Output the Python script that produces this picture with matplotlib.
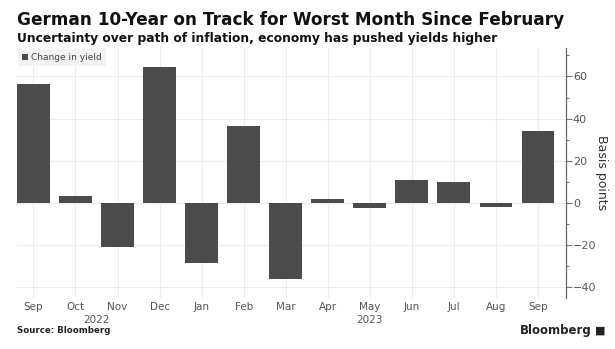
import numpy as np
import matplotlib.pyplot as plt
from matplotlib.ticker import MultipleLocator

months = ['Sep', 'Oct', 'Nov', 'Dec', 'Jan', 'Feb', 'Mar', 'Apr', 'May',
          'Jun', 'Jul', 'Aug', 'Sep']
years = ['2022', '2023']
year_pos = [1.5, 8]
change_bp = [56.5, 3.3, -21, 64.5, -28.5, 36.5, -36, 2, -2.5, 11, 10, -2, 34]

bar_color = '#4b4b4b'
grid_color = '#ececec'
tick_color = '#555555'

fig = plt.figure(figsize=(6.15, 3.49), dpi=100)
ax = fig.add_axes([0.0276, 0.146, 0.8927, 0.7165])

x = np.arange(len(months))
bars = ax.bar(x, change_bp, width=0.78, color=bar_color, label='Change in yield', zorder=3)

ax.set_xlim(-0.392, 12.667)
ax.set_ylim(-45, 73.5)

ax.yaxis.tick_right()
ax.yaxis.set_label_position('right')
ax.yaxis.set_major_locator(MultipleLocator(20))
ax.yaxis.set_minor_locator(MultipleLocator(10))
ax.tick_params(axis='y', which='major', length=4, width=0.8, color='#777777',
               labelsize=8, labelcolor=tick_color, pad=1)
ax.tick_params(axis='y', which='minor', length=2.5, width=0.8, color='#777777')
ax.set_ylabel('Basis points', rotation=270, labelpad=8, fontsize=9, color='#333333')

ax.set_xticks(x)
ax.set_xticklabels(months)
ax.tick_params(axis='x', length=0, labelsize=7.5, labelcolor=tick_color, pad=3)
for yr, p in zip(years, year_pos):
    ax.text(p, -0.088, yr, transform=ax.get_xaxis_transform(), ha='center', va='center',
            fontsize=7.5, color=tick_color)

ax.grid(True, color=grid_color, linewidth=0.8, zorder=0)
for s in ['top', 'left', 'bottom']:
    ax.spines[s].set_visible(False)
ax.spines['right'].set_color('#666666')
ax.spines['right'].set_linewidth(0.9)

leg = ax.legend(loc='upper left', bbox_to_anchor=(0.0, 1.0), fontsize=6.5, frameon=True,
                handlelength=0.7, handleheight=0.7, handletextpad=0.3,
                borderpad=0.45, borderaxespad=0.1, fancybox=False)
leg.get_frame().set_facecolor('#f1f1f1')
leg.get_frame().set_edgecolor('none')
for t in leg.get_texts():
    t.set_color('#444444')

fig.text(0.0276, 0.943, 'German 10-Year on Track for Worst Month Since February',
         fontsize=12.2, fontweight='bold', color='#111111', va='center')
fig.text(0.0276, 0.89, 'Uncertainty over path of inflation, economy has pushed yields higher',
         fontsize=8.8, fontweight='bold', color='#111111', va='center')
fig.text(0.0276, 0.052, 'Source: Bloomberg', fontsize=6.2, fontweight='bold',
         color='#222222', va='center')
fig.text(0.962, 0.052, 'Bloomberg', fontsize=8.5, fontweight='bold',
         color='#222222', va='center', ha='right')
fig.text(0.985, 0.052, '\u25A0', fontsize=8, color='#222222', va='center', ha='right')

fig.savefig('out.png', dpi=100)
